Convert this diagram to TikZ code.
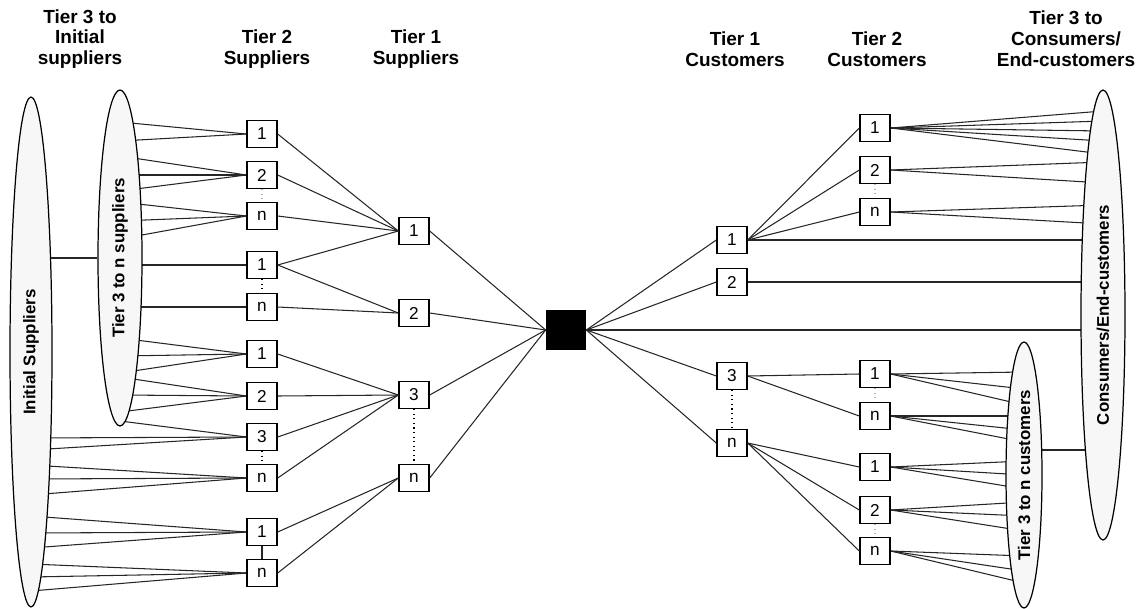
\documentclass[tikz,border=0pt]{standalone}
\usepackage{fontspec}
\setmainfont{Liberation Sans}
\usepackage{tikz}
\usetikzlibrary{shapes.geometric}
\usetikzlibrary{backgrounds}
\tikzset{%
  l/.style = {line width=0.6pt,black!85},
  dot/.style = {line width=0.6pt,dotted},
  b/.style = {rectangle,draw,line width=0.8pt,fill=white,inner sep=0pt,
        minimum width=0.6cm,minimum height=0.54cm,font=\fontsize{9.8}{11}\selectfont},
  hub/.style = {rectangle,fill=black,inner sep=0pt,minimum size=0.8cm},
  e/.style = {ellipse,draw,line width=0.7pt,fill=gray!6,inner sep=0pt,rotate=90,
        font=\fontsize{9.6}{11}\selectfont\bfseries},
  hd/.style = {align=center,inner sep=0pt,font=\fontsize{10.8}{11.9}\selectfont\bfseries}
}

\begin{document}
\begin{tikzpicture}[x=0.02cm,y=-0.02cm]
    \useasboundingbox (0,0) rectangle (1137,609);
    % column heads
    \node[hd] (h1) at (80,39) {Tier 3 to\\Initial\\suppliers};
    \node[hd] (h2) at (267,49) {Tier 2\\Suppliers};
    \node[hd] (h3) at (416,49) {Tier 1\\Suppliers};
    \node[hd] (h4) at (735,49) {Tier 1\\Customers};
    \node[hd] (h5) at (877,49) {Tier 2\\Customers};
    \node[hd] (h6) at (1066,39) {Tier 3 to\\Consumers/\\End-customers};
    % outer tiers
    \node[e,minimum width=10.2cm,minimum height=0.84cm] (ini) at (31,352) {Initial Suppliers};
    \node[e,minimum width=6.72cm,minimum height=0.88cm] (sup) at (120,258) {Tier 3 to n suppliers};
    \node[e,minimum width=9cm,minimum height=0.88cm] (con) at (1103,315) {Consumers/End-customers};
    \node[e,minimum width=5.32cm,minimum height=0.72cm] (cus) at (1024,475) {Tier 3 to n customers};
    % tier 2 and tier 1
    \foreach \n/\y/\t in {s2a/134/1,s2b/175/2,s2c/216/n,s2d/265/1,s2e/307/n,s2f/354/1,
            s2g/396/2,s2h/437/3,s2i/478/n,s2j/532/1,s2k/573/n}
        \node[b] (\n) at (262,\y) {\t};
    \foreach \n/\y/\t in {s1a/231/1,s1b/313/2,s1c/395/3,s1d/478/n}
        \node[b] (\n) at (414,\y) {\t};
    \node[hub] (hub) at (566,330) {};
    \foreach \n/\y/\t in {c1a/240/1,c1b/282/2,c1c/376/3,c1d/443/n}
        \node[b] (\n) at (732,\y) {\t};
    \foreach \n/\y/\t in {c2a/128/1,c2b/170/2,c2c/212/n,c2d/374/1,c2e/416/n,
            c2f/467/1,c2g/510/2,c2h/551/n}
        \node[b] (\n) at (875,\y) {\t};

    \begin{scope}[on background layer]
    \foreach \n/\ys in {s2a/{122,141},s2b/{156,175,191},s2c/{202,221,239},s2d/{265},
            s2e/{307},s2f/{338,356,373},s2g/{377,395,412},s2h/{421}}
        \foreach \y in \ys \draw[l] (\n.west) -- (sup |- 0,\y);
    \foreach \n/\ys in {s2h/{438,450},s2i/{465,479,495},s2j/{516,533,548},s2k/{564,577,591}}
        \foreach \y in \ys \draw[l] (\n.west) -- (ini |- 0,\y);
    \foreach \n/\ys in {c2a/{111,121,131,141,154},c2b/{162,183},c2c/{205,224}}
        \foreach \y in \ys \draw[l] (\n.east) -- (con |- 0,\y);
    \foreach \n/\ys in {c2d/{372,389,405},c2e/{416,430,442},c2f/{461,475,489},
            c2g/{502,516,531},c2h/{556,571,583}}
        \foreach \y in \ys \draw[l] (\n.east) -- (cus |- 0,\y);
    \draw[l] (ini |- sup) -- (sup);
    \draw[l] (cus |- 0,450) -- (con |- 0,450);
    \draw[l] (hub.east) -- (con |- hub);
    \draw[l] (c1a.east) -- (con |- c1a);
    \draw[l] (c1b.east) -- (con |- c1b);
    \end{scope}

    \foreach \a/\b in {s2a/s1a,s2b/s1a,s2c/s1a,s2d/s1a,s2d/s1b,s2e/s1b,s2f/s1c,
            s2g/s1c,s2h/s1c,s2i/s1c,s2j/s1d,s2k/s1d}
        \draw[l] (\a.east) -- (\b.west);
    \foreach \a in {s1a,s1b,s1c,s1d}
        \draw[l] (\a.east) -- (hub.west);
    \foreach \b in {c1a,c1b,c1c,c1d}
        \draw[l] (hub.east) -- (\b.west);
    \foreach \a/\b in {c1a/c2a,c1a/c2b,c1a/c2c,c1c/c2d,c1c/c2e,c1d/c2f,c1d/c2g,c1d/c2h}
        \draw[l] (\a.east) -- (\b.west);

    % dotted links inside a tier
    \draw[dot,gray!60] (s2b.south) -- (s2c.north);
    \draw[dot] (s2d.south) -- (s2e.north);
    \draw[dot] (s2h.south) -- (s2i.north);
    \draw[l] (s2j.south) -- (s2k.north);
    \draw[dot] (s1c.south) -- (s1d.north);
    \draw[dot] (c1c.south) -- (c1d.north);
    \draw[dot,gray!60] (c2b.south) -- (c2c.north);
    \draw[dot,gray!60] (c2d.south) -- (c2e.north);
    \draw[dot,gray!60] (c2g.south) -- (c2h.north);
\end{tikzpicture}
\end{document}
